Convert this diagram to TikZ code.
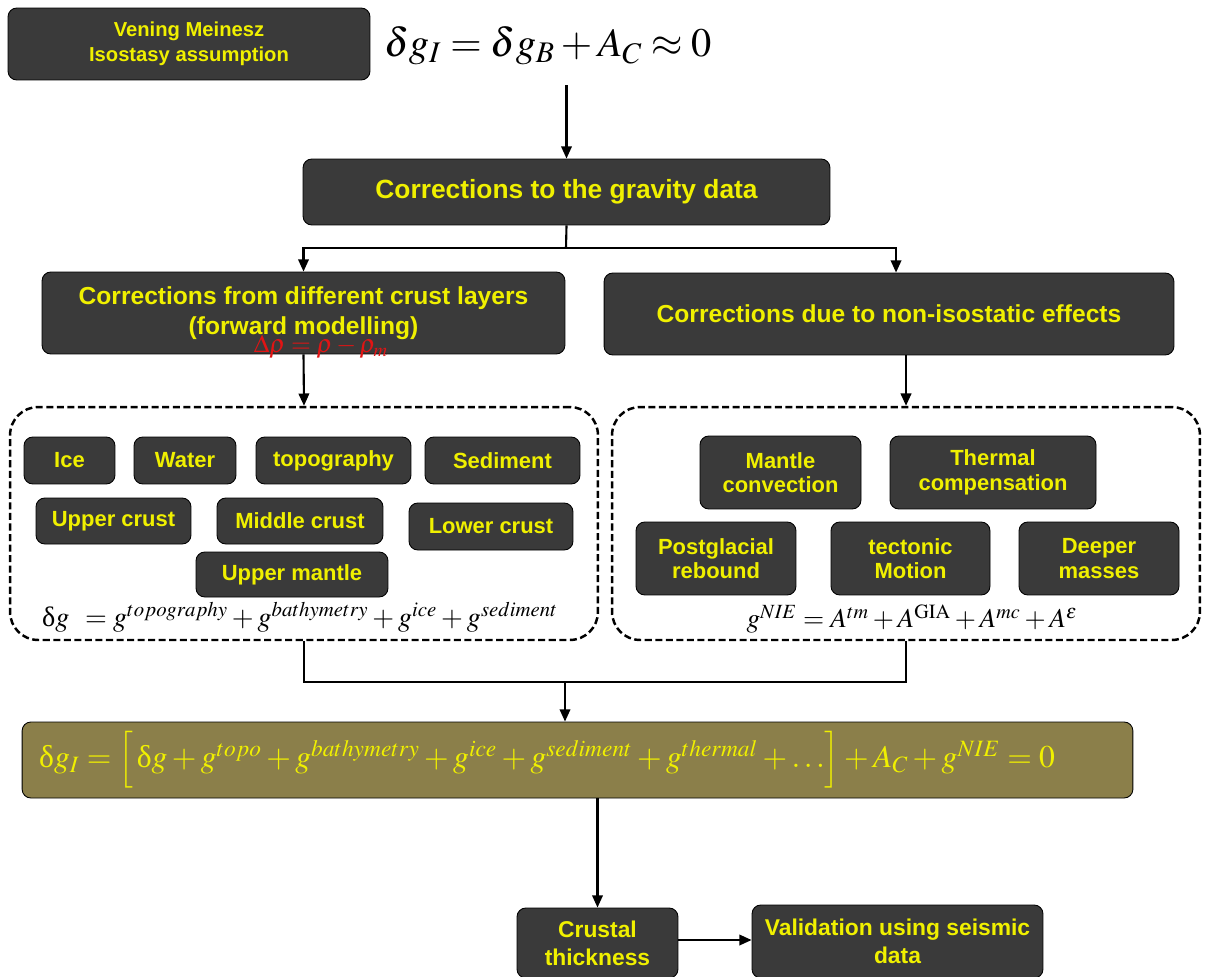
\documentclass[tikz,border=0pt]{standalone}
\usepackage{mathptmx}
\usepackage{fontspec}
\setsansfont{Liberation Sans}
\newfontfamily\greekup{Liberation Serif}
\usetikzlibrary{positioning, arrows.meta, calc}

\definecolor{boxgray}{RGB}{58,58,58}
\definecolor{boxyellow}{RGB}{240,240,0}
\definecolor{sumolive}{RGB}{139,127,74}
\definecolor{rhored}{RGB}{225,20,20}

\begin{document}
\begin{tikzpicture}[x=0.02cm, y=-0.02cm,
        box/.style={rectangle, rounded corners=5pt, draw=black, line width=0.5pt, fill=boxgray, text=boxyellow, font=\sffamily\bfseries, align=center, inner sep=0pt},
        small/.style={box, font=\fontsize{12.5}{14}\sffamily\bfseries},
        group/.style={rectangle, rounded corners=16pt, draw=black, line width=1.4pt, dash pattern=on 4pt off 2pt},
        arr/.style={-{Triangle[length=7pt,width=6pt]}, line width=1.2pt},
        link/.style={line width=1.2pt},
    ]
    \clip (0,0) rectangle (1212,976);
    \fill[white] (0,0) rectangle (1212,976);

    % Top
    \node[box, minimum width=7.24cm, minimum height=1.44cm, font=\fontsize{11.5}{14}\sffamily\bfseries] (vening) at (189,44) {Vening Meinesz\\Isostasy assumption};
    \node (topeq) at (548,46) {\fontsize{23}{27}\selectfont $\delta g_I = \delta g_B + A_C \approx 0$};
    \node[box, minimum width=10.54cm, minimum height=1.32cm, font=\fontsize{15}{18}\sffamily\bfseries] (gravity) at (566.5,192) {Corrections to the gravity data};

    % Two branches
    \node[box, minimum width=10.46cm, minimum height=1.64cm, font=\fontsize{14}{17}\sffamily\bfseries] (crust) at (303.5,313) {Corrections from different crust layers\\(forward modelling)};
    \node[box, minimum width=11.4cm, minimum height=1.64cm, font=\fontsize{14}{17}\sffamily\bfseries] (noniso) at (889,314) {Corrections due to non-isostatic effects};
    \node[text=rhored] (rho) at (321,347) {\fontsize{14.5}{17}\selectfont $\Delta\rho = \rho - \rho_m$};

    % Groups
    \node[group, minimum width=11.76cm, minimum height=4.66cm] (leftgrp) at (304,523.5) {};
    \node[group, minimum width=11.76cm, minimum height=4.66cm] (rightgrp) at (906,523.5) {};

    % Layers, row 1
    \node[small, minimum width=1.82cm, minimum height=0.94cm] (ice) at (69.5,460.5) {Ice};
    \node[small, minimum width=2.04cm, minimum height=0.94cm] (water) at (185,460.5) {Water};
    \node[small, minimum width=3.10cm, minimum height=0.94cm] (topo) at (333.5,460.5) {topography};
    \node[small, minimum width=3.10cm, minimum height=0.94cm] (sediment) at (502.5,460.5) {Sediment};
    % Layers, row 2
    \node[small, minimum width=3.10cm, minimum height=0.92cm] (uppercrust) at (113.5,521) {Upper crust};
    \node[small, minimum width=3.32cm, minimum height=0.92cm] (middlecrust) at (300,521) {Middle crust};
    \node[small, minimum width=3.28cm, minimum height=0.94cm] (lowercrust) at (491,526.5) {Lower crust};
    % Layers, row 3
    \node[small, minimum width=3.84cm, minimum height=0.90cm] (uppermantle) at (292,574.5) {Upper mantle};
    \node (lefteq) at (300,617) {\fontsize{16}{19}\selectfont $\mbox{\greekup δ}g \;\,= g^{topography} + g^{bathymetry} + g^{ice} + g^{sediment}$};

    % Effects, row 1
    \node[small, minimum width=3.22cm, minimum height=1.46cm] (mantleconv) at (780.5,472.5) {Mantle\\convection};
    \node[small, minimum width=4.12cm, minimum height=1.46cm] (thermal) at (993,472.5) {Thermal\\compensation};
    % Effects, row 2
    \node[small, minimum width=3.20cm, minimum height=1.46cm] (postglacial) at (716,558.5) {Postglacial\\rebound};
    \node[small, minimum width=3.18cm, minimum height=1.46cm] (tectonic) at (910.5,558.5) {tectonic\\Motion};
    \node[small, minimum width=3.20cm, minimum height=1.46cm] (deeper) at (1099,558.5) {Deeper\\masses};
    \node (righteq) at (912,619) {\fontsize{15.5}{18}\selectfont $g^{NIE} = A^{tm} + A^{\mathrm{GIA}} + A^{mc} + A^{\varepsilon}$};

    % Sum
    \node[box, fill=sumolive, minimum width=22.22cm, minimum height=1.52cm] (sum) at (577.5,760) {};
    \node[text=boxyellow] (sumeq) at (547,760) {\fontsize{18}{22}\selectfont $\mbox{\greekup δ}g_I = \Bigl[\, \mbox{\greekup δ}g + g^{topo} + g^{bathymetry} + g^{ice} + g^{sediment} + g^{thermal} + \dots \Bigr] + A_C + g^{NIE} = 0$};

    % Bottom
    \node[box, minimum width=3.22cm, minimum height=1.40cm, font=\fontsize{13}{16}\sffamily\bfseries] (crustal) at (597.5,943) {Crustal\\thickness};
    \node[box, minimum width=5.82cm, minimum height=1.46cm, font=\fontsize{13}{16}\sffamily\bfseries] (valid) at (897.5,941.5) {Validation using seismic\\data};

    % Connectors
    \coordinate (split) at (566,248);
    \coordinate (merge) at (565,682);
    \draw[arr] ([yshift=-8pt]topeq.south -| gravity.north) -- (gravity.north);
    \draw[link] (gravity.south) -- (split);
    \draw[arr] (split) -| (crust.north);
    \draw[arr] (split) -| ([xshift=4pt]noniso.north);
    \draw[arr] (crust.south) -- (leftgrp.north);
    \draw[arr] (noniso.south -| rightgrp.north) -- (rightgrp.north);
    \draw[link] (leftgrp.south) |- (merge) -| (rightgrp.south);
    \draw[arr] (merge) -- (merge |- sum.north);
    \draw[arr] (sum.south -| crustal.north) -- (crustal.north);
    \draw[arr] (crustal.east |- 0,940) -- (valid.west |- 0,940);
\end{tikzpicture}
\end{document}
